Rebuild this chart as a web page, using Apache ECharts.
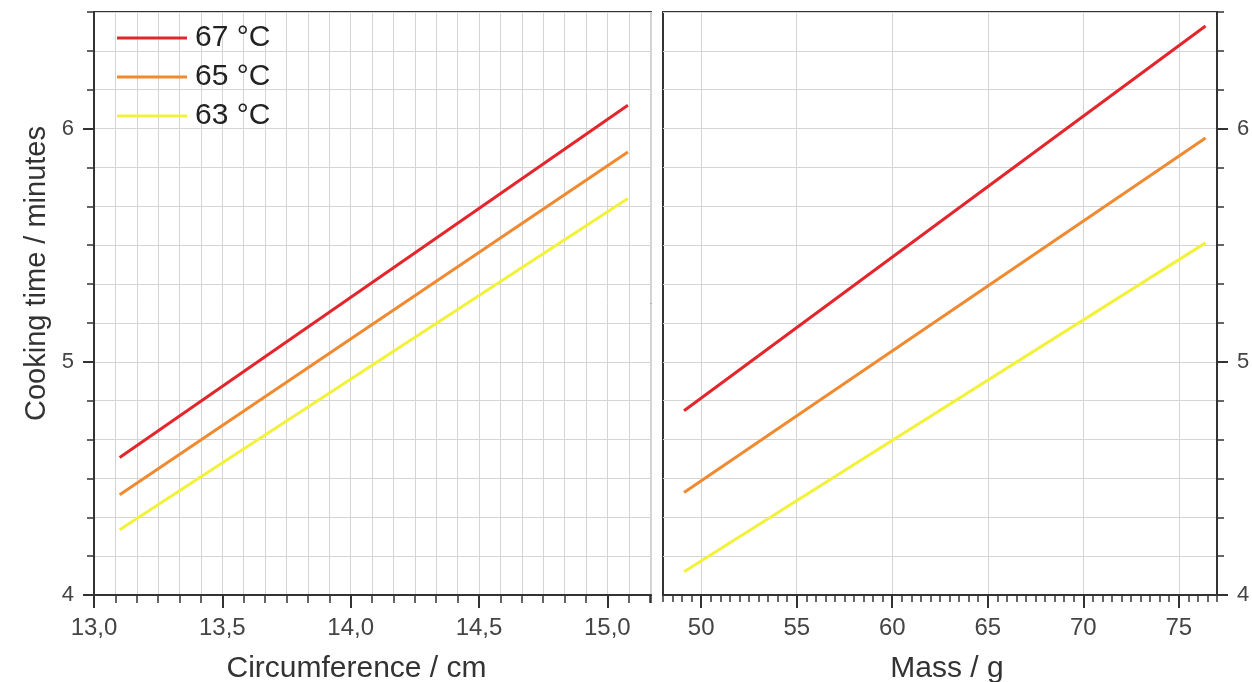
<!DOCTYPE html>
<html><head><meta charset="utf-8">
<script src="https://cdn.jsdelivr.net/npm/echarts@6/dist/echarts.min.js"></script>
<style>html,body{margin:0;padding:0;background:#fff}#c{width:1252px;height:682px}</style>
</head><body><div id="c"></div>
<script>
// ---- data ----
const seriesNames = ['67 °C', '65 °C', '63 °C'];
const seriesColors = ['#e3262c', '#f08a30', '#f2f23c'];
const circumference = [13.1, 15.08];
const circTime67 = [4.59, 6.10];
const circTime65 = [4.43, 5.90];
const circTime63 = [4.28, 5.70];
const mass = [49.1, 76.4];
const massTime67 = [4.79, 6.44];
const massTime65 = [4.44, 5.96];
const massTime63 = [4.10, 5.51];
const circTicks = [13.0, 13.5, 14.0, 14.5, 15.0];
const massTicks = [50, 55, 60, 65, 70, 75];
const timeTicks = [4, 5, 6];

// ---- styles ----
const FONT = "'Liberation Sans', Arial, sans-serif";
const AX = '#333';
const GRIDC = '#d4d4d4';
const xLabelStyle = { color: '#444', fontSize: 24, fontFamily: FONT };
const yLabelStyle = { color: '#444', fontSize: 22, fontFamily: FONT };
const nameStyle = { color: '#333', fontSize: 30, fontFamily: FONT };

function zip(xs, ys) { return xs.map((x, i) => [x, ys[i]]); }

const circSets = [circTime67, circTime65, circTime63];
const massSets = [massTime67, massTime65, massTime63];

const series = [];
circSets.forEach((ys, i) => series.push({
  type: 'line', name: seriesNames[i], xAxisIndex: 0, yAxisIndex: 0,
  data: zip(circumference, ys), showSymbol: false, symbol: 'none',
  lineStyle: { color: seriesColors[i], width: 3 }, itemStyle: { color: seriesColors[i] }, z: 5
}));
massSets.forEach((ys, i) => series.push({
  type: 'line', name: seriesNames[i], xAxisIndex: 2, yAxisIndex: 2,
  data: zip(mass, ys), showSymbol: false, symbol: 'none',
  lineStyle: { color: seriesColors[i], width: 3 }, itemStyle: { color: seriesColors[i] }, z: 5
}));

const option = {
  animation: false,
  backgroundColor: '#fff',
  textStyle: { fontFamily: FONT },
  grid: [
    { left: 94, right: 601, top: 12, bottom: 87, show: true, borderColor: AX, borderWidth: 2, outerBoundsMode: 'none' },
    { left: 663, right: 35, top: 12, bottom: 87, show: true, borderColor: AX, borderWidth: 2, outerBoundsMode: 'none' }
  ],
  legend: {
    data: seriesNames, orient: 'vertical', left: 117, top: 23, padding: 0,
    icon: 'rect', itemWidth: 70, itemHeight: 3, itemGap: 9,
    textStyle: { fontSize: 30, lineHeight: 28, color: '#222', fontFamily: FONT, padding: [0, 0, 0, 3] }
  },
  xAxis: [
    { // 0: circumference major
      type: 'value', gridIndex: 0, position: 'bottom', min: 13, max: 15.17,
      name: 'Circumference / cm', nameLocation: 'middle', nameGap: 59, nameMoveOverlap: false,
      nameTextStyle: { ...nameStyle, padding: [0, 32, 0, 0] },
      axisLine: { show: true, onZero: false, lineStyle: { color: AX, width: 2 } },
      axisTick: { show: true, inside: false, length: 13, customValues: circTicks, lineStyle: { color: AX, width: 2 } },
      axisLabel: { show: true, margin: 21, customValues: circTicks, formatter: v => v.toFixed(1).replace('.', ','), ...xLabelStyle },
      splitLine: { show: false }
    },
    { // 1: circumference minor
      type: 'value', gridIndex: 0, position: 'bottom', min: 13, max: 15.17, interval: 1 / 12,
      axisLine: { show: false }, axisLabel: { show: false },
      axisTick: { show: true, inside: false, length: 8, lineStyle: { color: AX, width: 1.5 } },
      splitLine: { show: true, lineStyle: { color: GRIDC, width: 1 } }
    },
    { // 2: mass major
      type: 'value', gridIndex: 1, position: 'bottom', min: 48, max: 77, splitNumber: 6,
      name: 'Mass / g', nameLocation: 'middle', nameGap: 59, nameMoveOverlap: false,
      nameTextStyle: { ...nameStyle, padding: [0, 0, 0, 14] },
      axisLine: { show: true, onZero: false, lineStyle: { color: AX, width: 2 } },
      axisTick: { show: true, inside: false, length: 13, customValues: massTicks, lineStyle: { color: AX, width: 2 } },
      axisLabel: { show: true, margin: 21, customValues: massTicks, ...xLabelStyle },
      splitLine: { show: true, lineStyle: { color: GRIDC, width: 1 } }
    },
    { // 3: mass minor
      type: 'value', gridIndex: 1, position: 'bottom', min: 48, max: 77, interval: 0.5,
      axisLine: { show: false }, axisLabel: { show: false },
      axisTick: { show: true, inside: false, length: 7, lineStyle: { color: AX, width: 1.5 } },
      splitLine: { show: false }
    }
  ],
  yAxis: [
    { // 0: left major
      type: 'value', gridIndex: 0, position: 'left', min: 4, max: 6.5,
      name: 'Cooking time / minutes', nameLocation: 'middle', nameGap: 43, nameMoveOverlap: false,
      nameTextStyle: { ...nameStyle, fontSize: 29, padding: [0, 0, 0, 60] },
      axisLine: { show: true, onZero: false, lineStyle: { color: AX, width: 2 } },
      axisTick: { show: true, inside: false, length: 11, customValues: timeTicks, lineStyle: { color: AX, width: 2 } },
      axisLabel: { show: true, margin: 20, customValues: timeTicks, ...yLabelStyle },
      splitLine: { show: false }
    },
    { // 1: left minor
      type: 'value', gridIndex: 0, position: 'left', min: 4, max: 6.5, interval: 1 / 6,
      axisLine: { show: false }, axisLabel: { show: false },
      axisTick: { show: true, inside: false, length: 7, lineStyle: { color: AX, width: 1.5 } },
      splitLine: { show: true, lineStyle: { color: GRIDC, width: 1 } }
    },
    { // 2: right major
      type: 'value', gridIndex: 1, position: 'right', min: 4, max: 6.5,
      axisLine: { show: true, onZero: false, lineStyle: { color: AX, width: 2 } },
      axisTick: { show: true, inside: false, length: 11, customValues: timeTicks, lineStyle: { color: AX, width: 2 } },
      axisLabel: { show: true, margin: 20, customValues: timeTicks, ...yLabelStyle },
      splitLine: { show: false }
    },
    { // 3: right minor
      type: 'value', gridIndex: 1, position: 'right', min: 4, max: 6.5, interval: 1 / 6,
      axisLine: { show: false }, axisLabel: { show: false },
      axisTick: { show: true, inside: false, length: 7, lineStyle: { color: AX, width: 1.5 } },
      splitLine: { show: true, lineStyle: { color: GRIDC, width: 1 } }
    }
  ],
  series: series
};

const chart = echarts.init(document.getElementById('c'), null, { renderer: 'canvas' });
chart.setOption(option);
</script>
</body></html>
